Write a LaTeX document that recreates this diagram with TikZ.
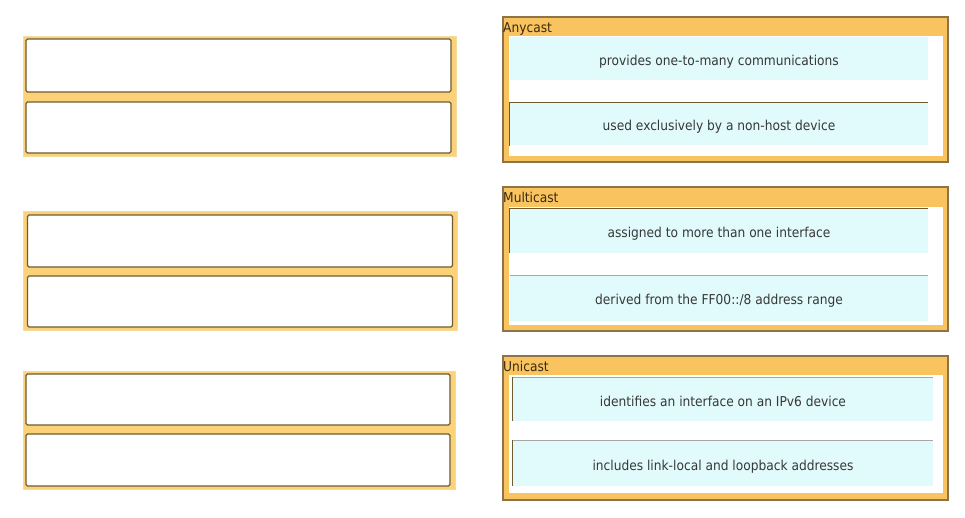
\documentclass[tikz,border=0pt]{standalone}
\usepackage{fontspec}
\setmainfont{DejaVu Sans Condensed}
\begin{document}
\begin{tikzpicture}[x=1pt,y=-1pt,
  leftgrp/.style={fill=grpfill,draw=grpedge,line width=0.8pt},
  slot/.style={fill=white,draw=slotedge,line width=1.2pt,rounded corners=1.5pt,inner sep=0pt,minimum width=425pt},
  rightgrp/.style={fill=hdrfill,draw=rgedge,line width=1.3pt},
  inner/.style={fill=white,draw=none},
  answer/.style={fill=ansfill,draw=none,font=\fontsize{13.6}{15}\selectfont,text=txt,text height=16.5pt,text depth=2.5pt},
  hdr/.style={anchor=north west,inner sep=0pt,font=\fontsize{13.6}{15}\selectfont,text=hdrtxt},
  darkline/.style={draw=slotedge,line width=1.2pt},
  thinline/.style={draw=gray!70,line width=0.6pt}]
\definecolor{grpfill}{HTML}{FBD27A}
\definecolor{grpedge}{HTML}{F3DCA0}
\definecolor{slotedge}{HTML}{6E5C30}
\definecolor{hdrfill}{HTML}{F9C460}
\definecolor{rgedge}{HTML}{8C7448}
\definecolor{ansfill}{HTML}{E1FAFC}
\definecolor{txt}{HTML}{383838}
\definecolor{hdrtxt}{HTML}{3A2A10}
\useasboundingbox (0,0) rectangle (965,518);
\fill[white] (0,0) rectangle (965,518);
% left groups
\draw[leftgrp] (23,36) rectangle (456,156);
\node[slot,minimum height=53pt] (l1a) at (238.5,65.5) {};
\node[slot,minimum height=51pt] (l1b) at (238.5,127.5) {};
\draw[leftgrp] (23,211) rectangle (457,330);
\node[slot,minimum height=52pt] (l2a) at (240,241) {};
\node[slot,minimum height=51pt] (l2b) at (240,301.5) {};
\draw[leftgrp] (23,371) rectangle (455,489);
\node[slot,minimum height=51pt,minimum width=424pt] (l3a) at (238,399.5) {};
\node[slot,minimum height=52pt,minimum width=424pt] (l3b) at (238,460) {};
% right groups
\draw[rightgrp] (503,17) rectangle (948,162);
\fill[inner] (509,36) rectangle (943,156);
\node[hdr] (hany) at (503,22) {Anycast};
\node[answer,minimum width=418pt,minimum height=43pt] (a1) at (719,59) {provides one-to-many communications};
\node[answer,minimum width=418pt,minimum height=43pt] (a2) at (719,124) {used exclusively by a non-host device};
\draw[darkline] (a2.south west) |- (a2.north east);
\draw[rightgrp] (503,187) rectangle (948,331);
\fill[inner] (509,207) rectangle (943,325);
\node[hdr] (hmul) at (503,192) {Multicast};
\node[answer,minimum width=418pt,minimum height=44pt] (m1) at (719,231) {assigned to more than one interface};
\node[answer,minimum width=418pt,minimum height=45pt] (m2) at (719,298) {derived from the FF00::/8 address range};
\draw[darkline] (m1.south west) |- (m1.north east);
\draw[thinline] (m2.north west) -- (m2.north east);
\draw[rightgrp] (503,356) rectangle (948,500);
\fill[inner] (509,375) rectangle (943,493);
\node[hdr] (huni) at (503,361) {Unicast};
\node[answer,minimum width=420pt,minimum height=43pt] (u1) at (723,399) {identifies an interface on an IPv6 device};
\node[answer,minimum width=420pt,minimum height=45pt] (u2) at (723,463) {includes link-local and loopback addresses};
\draw[darkline] (u1.south west) -- (u1.north west);
\draw[thinline] (u1.north west) -- (u1.north east);
\draw[darkline] (u2.south west) -- (u2.north west);
\draw[thinline] (u2.north west) -- (u2.north east);
\end{tikzpicture}
\end{document}
